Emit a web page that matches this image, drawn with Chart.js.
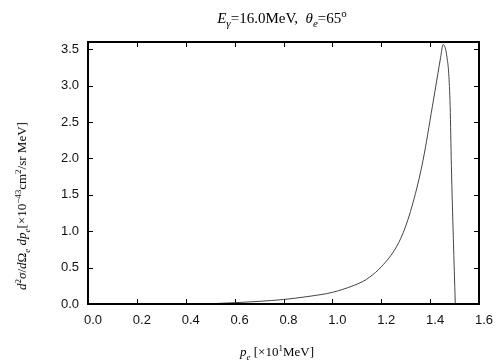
<!DOCTYPE html>
<html>
<head>
<meta charset="utf-8">
<script src="https://cdn.jsdelivr.net/npm/chart.js@4/dist/chart.umd.min.js"></script>
<style>
  html, body { margin: 0; padding: 0; background: #fff; }
  #wrap { position: relative; width: 504px; height: 360px; }
  canvas { position: absolute; left: 0; top: 0; }
  .lbl { position: absolute; font-family: "Liberation Serif", "DejaVu Serif", serif; font-size: 13px; color: #000; white-space: nowrap; }
  .lbl sub, .lbl sup { font-size: 9px; line-height: 0; }
  #title { left: 282px; top: 18px; transform: translate(-50%, -50%); font-size: 15px; }
  #title sub, #title sup { font-size: 11px; }
  #xlabel { left: 277px; top: 352px; transform: translate(-50%, -50%); }
  #ylabel { left: 22px; top: 206px; transform: translate(-50%, -50%) rotate(-90deg); }
</style>
</head>
<body>
<div id="wrap">
  <canvas id="chart" width="504" height="360"></canvas>
  <div class="lbl" id="title"><i>E</i><sub><i>γ</i></sub>=16.0MeV,&nbsp; <i>θ</i><sub><i>e</i></sub>=65<sup>o</sup></div>
  <div class="lbl" id="xlabel"><i>p</i><sub><i>e</i></sub> [×10<sup>1</sup>MeV]</div>
  <div class="lbl" id="ylabel"><i>d</i><sup>2</sup><i>σ</i>/<i>d</i>Ω<sub><i>e</i></sub> <i>dp</i><sub><i>e</i></sub>[×10<sup>−43</sup>cm<sup>2</sup>/sr MeV]</div>
</div>
<script>
// electron momentum (x10 MeV) and cross section (x1e-43 cm^2/sr MeV)
const momentum = [0.0, 0.45, 0.5, 0.6, 0.7, 0.8, 0.9, 1.0, 1.084, 1.125, 1.153, 1.2, 1.262, 1.299, 1.34, 1.371, 1.409, 1.432, 1.443, 1.453, 1.462, 1.469, 1.476, 1.482, 1.487, 1.495, 1.503];
const crossSection = [0, 0, 0.003, 0.018, 0.036, 0.062, 0.103, 0.16, 0.25, 0.31, 0.37, 0.51, 0.784, 1.059, 1.518, 1.975, 2.71, 3.17, 3.39, 3.565, 3.52, 3.39, 3.17, 2.71, 1.9, 0.9, 0];

const xTicks = [0.0, 0.2, 0.4, 0.6, 0.8, 1.0, 1.2, 1.4, 1.6];
const yTicks = [0.0, 0.5, 1.0, 1.5, 2.0, 2.5, 3.0, 3.5];

const points = momentum.map((x, i) => ({ x: x, y: crossSection[i] }));

// gnuplot style: box frame with inward ticks on all four sides
const frameTicks = {
    id: 'frameTicks',
    afterDraw(chart) {
        const ctx = chart.ctx;
        const a = chart.chartArea;
        const xs = chart.scales.x;
        const ys = chart.scales.y;
        const len = 5;
        ctx.save();
        ctx.strokeStyle = '#000';
        ctx.lineWidth = 1;
        ctx.beginPath();
        xTicks.forEach(v => {
            const px = Math.round(xs.getPixelForValue(v)) + 0.5;
            ctx.moveTo(px, a.bottom); ctx.lineTo(px, a.bottom - len);
            ctx.moveTo(px, a.top); ctx.lineTo(px, a.top + len);
        });
        yTicks.forEach(v => {
            const py = Math.round(ys.getPixelForValue(v)) + 0.5;
            ctx.moveTo(a.left, py); ctx.lineTo(a.left + len, py);
            ctx.moveTo(a.right, py); ctx.lineTo(a.right - len, py);
        });
        ctx.stroke();
        ctx.lineWidth = 2;
        ctx.strokeRect(a.left, a.top, a.right - a.left, a.bottom - a.top);
        ctx.restore();
    }
};

new Chart(document.getElementById('chart'), {
    type: 'scatter',
    data: {
        datasets: [{
            data: points,
            showLine: true,
            borderColor: '#444',
            borderWidth: 1,
            pointRadius: 0,
            cubicInterpolationMode: 'monotone',
            fill: false
        }]
    },
    options: {
        responsive: false,
        animation: false,
        layout: { padding: { left: 40, right: 25, top: 42, bottom: 20 } },
        plugins: { legend: { display: false }, tooltip: { enabled: false } },
        scales: {
            x: {
                type: 'linear',
                min: 0,
                max: 1.6,
                afterBuildTicks: s => { s.ticks = xTicks.map(v => ({ value: v })); },
                afterFit: s => { s.height = 36; },
                grid: { display: false, drawTicks: false },
                border: { display: false },
                ticks: {
                    padding: 9,
                    labelOffset: 5,
                    color: '#111',
                    font: { family: 'Liberation Sans', size: 13 },
                    callback: v => v.toFixed(1)
                }
            },
            y: {
                type: 'linear',
                min: 0,
                max: 3.6,
                afterBuildTicks: s => { s.ticks = yTicks.map(v => ({ value: v })); },
                afterFit: s => { s.width = 48; },
                grid: { display: false, drawTicks: false },
                border: { display: false },
                ticks: {
                    padding: 9,
                    color: '#111',
                    font: { family: 'Liberation Sans', size: 13 },
                    callback: v => v.toFixed(1)
                }
            }
        }
    },
    plugins: [frameTicks]
});
</script>
</body>
</html>
